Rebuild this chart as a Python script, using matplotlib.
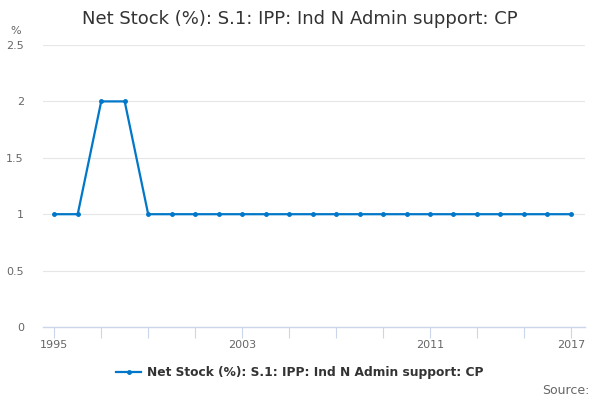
import matplotlib.pyplot as plt

# Dane
years = list(range(1995, 2018))
values = [1, 1, 2, 2, 1, 1, 1, 1, 1, 1, 1, 1, 1, 1, 1, 1, 1, 1, 1, 1, 1, 1, 1]
series_name = 'Net Stock (%): S.1: IPP: Ind N Admin support: CP'
title = 'Net Stock (%): S.1: IPP: Ind N Admin support: CP'

tick_years = list(range(1995, 2018, 2))
label_years = [1995, 2003, 2011, 2017]
y_ticks = [0, 0.5, 1, 1.5, 2, 2.5]
y_labels = ['0', '0.5', '1', '1.5', '2', '2.5']

line_color = '#0077c8'

fig = plt.figure(figsize=(6, 4), dpi=100)
ax = fig.add_axes([0.072, 0.1825, 0.903, 0.705])

ax.plot(years, values, color=line_color, linewidth=1.6, marker='o', markersize=2.5,
        label=series_name)

ax.set_xlim(1994.53, 2017.6)
ax.set_ylim(0, 2.5)

ax.set_yticks(y_ticks)
ax.set_yticklabels(y_labels)
ax.set_xticks(tick_years)
ax.set_xticklabels([str(y) if y in label_years else '' for y in tick_years])

ax.grid(axis='y', color='#e6e6e6', linewidth=0.8)
ax.set_axisbelow(True)
for side in ['top', 'right', 'left']:
    ax.spines[side].set_visible(False)
ax.spines['bottom'].set_color('#ccd6eb')
ax.spines['bottom'].set_linewidth(1)

ax.tick_params(axis='y', length=0, labelsize=8, labelcolor='#666666', pad=14)
ax.tick_params(axis='x', length=8, color='#ccd6eb', labelsize=8, labelcolor='#666666', pad=1)

fig.text(0.018, 0.915, '%', fontsize=8, color='#666666')
fig.text(0.5, 0.953, title, ha='center', va='center', fontsize=13, color='#333333')

fig.legend(loc='center', bbox_to_anchor=(0.5, 0.068), frameon=False,
           prop={'size': 8.8, 'weight': 'bold'}, labelcolor='#333333',
           handlelength=2, handletextpad=0.5)

fig.text(0.982, 0.025, 'Source:', ha='right', va='center', fontsize=9, color='#666666')

plt.savefig('out.png', dpi=100)
plt.close()
